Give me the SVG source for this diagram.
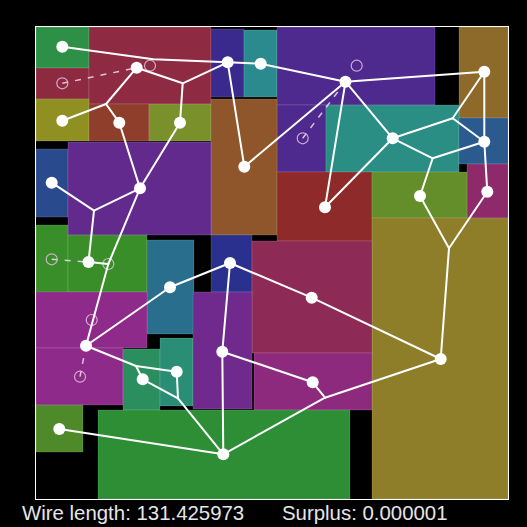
<svg xmlns="http://www.w3.org/2000/svg" width="527" height="527" viewBox="0 0 527 527">
<style>
.b{stroke:rgba(255,255,255,0.13);stroke-width:1}
.e{stroke:#ffffff;stroke-width:2;fill:none;stroke-linecap:round;stroke-linejoin:round}
.d{stroke:#f2dcec;stroke-width:1.5;stroke-dasharray:6 7;fill:none;opacity:0.85}
.g{fill:none;stroke:#dcb8d8;stroke-width:1.2;opacity:0.9}
.n{fill:#ffffff}
.t{font-family:"Liberation Sans",Arial,sans-serif;font-size:20.4px;fill:#e6e6e6}
</style>
<rect x="0" y="0" width="527" height="527" fill="#000"/>
<g id="blocks">
<rect class="b" x="36" y="27" width="53" height="41" fill="#2d9046"/>
<rect class="b" x="36" y="68" width="53" height="31" fill="#8e2a40"/>
<rect class="b" x="89" y="27" width="122" height="77" fill="#8e2b42"/>
<rect class="b" x="36" y="99" width="53" height="42" fill="#8f8f22"/>
<rect class="b" x="89" y="104" width="60" height="37" fill="#8e3e2a"/>
<rect class="b" x="149" y="104" width="62" height="37" fill="#7a902a"/>
<rect class="b" x="211" y="29" width="33" height="68" fill="#3b2a8e"/>
<rect class="b" x="244" y="30" width="33" height="67" fill="#2a8a8e"/>
<rect class="b" x="277" y="27" width="158" height="78" fill="#4e2a8e"/>
<rect class="b" x="277" y="105" width="49" height="67" fill="#4e2a8e"/>
<rect class="b" x="459" y="27" width="49" height="91" fill="#8e6a2a"/>
<rect class="b" x="326" y="105" width="133" height="67" fill="#2a8e84"/>
<rect class="b" x="459" y="118" width="49" height="46" fill="#2a5a8e"/>
<rect class="b" x="467" y="164" width="41" height="54" fill="#8e2a6a"/>
<rect class="b" x="211" y="99" width="66" height="136" fill="#8e562a"/>
<rect class="b" x="277" y="172" width="95" height="69" fill="#8e2a2a"/>
<rect class="b" x="372" y="172" width="95" height="46" fill="#648e2a"/>
<rect class="b" x="372" y="218" width="136" height="281" fill="#8e7e2a"/>
<rect class="b" x="36" y="149" width="32" height="68" fill="#2a4a8e"/>
<rect class="b" x="68" y="142" width="143" height="93" fill="#632a8e"/>
<rect class="b" x="36" y="225" width="32" height="68" fill="#3a8e2a"/>
<rect class="b" x="68" y="235" width="79" height="57" fill="#3a8e2a"/>
<rect class="b" x="147" y="240" width="47" height="94" fill="#2a6e8e"/>
<rect class="b" x="211" y="235" width="41" height="57" fill="#2a308e"/>
<rect class="b" x="252" y="241" width="120" height="112" fill="#8e2a56"/>
<rect class="b" x="36" y="292" width="111" height="56" fill="#8e2a8a"/>
<rect class="b" x="36" y="348" width="87" height="57" fill="#8e2a8a"/>
<rect class="b" x="123" y="349" width="37" height="61" fill="#2a8e5e"/>
<rect class="b" x="160" y="338" width="33" height="68" fill="#2a8e76"/>
<rect class="b" x="193" y="292" width="59" height="117" fill="#702a8e"/>
<rect class="b" x="254" y="353" width="118" height="57" fill="#8e2a7e"/>
<rect class="b" x="36" y="405" width="47" height="47" fill="#4e8a2a"/>
<rect class="b" x="98" y="410" width="252" height="89" fill="#2d8e36"/>
</g>
<rect x="35.5" y="26.5" width="473" height="473" fill="none" stroke="#ffffff" stroke-width="1"/>
<g id="ghosts">
<line class="d" x1="62.3" y1="83.3" x2="136.7" y2="67.7"/>
<line class="d" x1="302.7" y1="138.3" x2="345.5" y2="81.7"/>
<line class="d" x1="51.7" y1="259.3" x2="88.5" y2="262"/>
<line class="d" x1="80" y1="376.7" x2="86" y2="345.7"/>
<circle class="g" cx="150" cy="65.7" r="5.5"/>
<circle class="g" cx="62.3" cy="83.3" r="5.5"/>
<circle class="g" cx="356.7" cy="65.7" r="5.5"/>
<circle class="g" cx="302.7" cy="138.3" r="5.5"/>
<circle class="g" cx="51.7" cy="259.3" r="5.5"/>
<circle class="g" cx="108.3" cy="264" r="5.5"/>
<circle class="g" cx="91.7" cy="320" r="5.5"/>
<circle class="g" cx="80" cy="376.7" r="5.5"/>
</g>
<g id="connectors">
<polyline class="e" points="62.3,46.7 153.3,59.3 227.7,62.3"/>
<line class="e" x1="227.7" y1="62.3" x2="260.7" y2="63.7"/>
<line class="e" x1="260.7" y1="63.7" x2="345.5" y2="81.7"/>
<line class="e" x1="345.5" y1="81.7" x2="484.3" y2="71.7"/>
<line class="e" x1="136.7" y1="67.7" x2="182.7" y2="83.3"/>
<line class="e" x1="182.7" y1="83.3" x2="227.7" y2="62.3"/>
<line class="e" x1="182.7" y1="83.3" x2="180" y2="122.7"/>
<line class="e" x1="62.3" y1="120.7" x2="106" y2="104"/>
<line class="e" x1="106" y1="104" x2="136.7" y2="67.7"/>
<line class="e" x1="106" y1="104" x2="119.3" y2="122.7"/>
<line class="e" x1="119.3" y1="122.7" x2="140" y2="188.3"/>
<line class="e" x1="180" y1="122.7" x2="140" y2="188.3"/>
<line class="e" x1="227.7" y1="62.3" x2="244.3" y2="166.7"/>
<line class="e" x1="244.3" y1="166.7" x2="345.5" y2="81.7"/>
<line class="e" x1="345.5" y1="81.7" x2="325" y2="207.3"/>
<line class="e" x1="345.5" y1="81.7" x2="392.7" y2="138.3"/>
<line class="e" x1="392.7" y1="138.3" x2="325" y2="207.3"/>
<line class="e" x1="484.3" y1="71.7" x2="452.7" y2="118.3"/>
<line class="e" x1="452.7" y1="118.3" x2="392.7" y2="138.3"/>
<line class="e" x1="452.7" y1="118.3" x2="484.3" y2="141.7"/>
<line class="e" x1="484.3" y1="71.7" x2="484.3" y2="141.7"/>
<line class="e" x1="484.3" y1="141.7" x2="432.7" y2="158.3"/>
<line class="e" x1="432.7" y1="158.3" x2="392.7" y2="138.3"/>
<line class="e" x1="432.7" y1="158.3" x2="420" y2="196"/>
<line class="e" x1="484.3" y1="141.7" x2="487.3" y2="191.7"/>
<line class="e" x1="487.3" y1="191.7" x2="449" y2="248.3"/>
<line class="e" x1="420" y1="196" x2="449" y2="248.3"/>
<line class="e" x1="449" y1="248.3" x2="440.7" y2="359"/>
<line class="e" x1="51.7" y1="182.7" x2="94" y2="210.7"/>
<line class="e" x1="94" y1="210.7" x2="140" y2="188.3"/>
<line class="e" x1="94" y1="210.7" x2="88.5" y2="262"/>
<line class="e" x1="88.5" y1="262" x2="108.3" y2="264"/>
<line class="e" x1="140" y1="188.3" x2="108.3" y2="264"/>
<line class="e" x1="108.3" y1="264" x2="86" y2="345.7"/>
<line class="e" x1="86" y1="345.7" x2="170" y2="287.3"/>
<line class="e" x1="170" y1="287.3" x2="230" y2="263"/>
<line class="e" x1="230" y1="263" x2="311.7" y2="297.7"/>
<line class="e" x1="311.7" y1="297.7" x2="440.7" y2="359"/>
<line class="e" x1="230" y1="263" x2="222.3" y2="351.7"/>
<line class="e" x1="222.3" y1="351.7" x2="312.7" y2="382.3"/>
<line class="e" x1="312.7" y1="382.3" x2="325" y2="397.7"/>
<line class="e" x1="325" y1="397.7" x2="440.7" y2="359"/>
<line class="e" x1="325" y1="397.7" x2="223.3" y2="454.3"/>
<line class="e" x1="222.3" y1="351.7" x2="223.3" y2="454.3"/>
<line class="e" x1="86" y1="345.7" x2="136" y2="366"/>
<line class="e" x1="136" y1="366" x2="142.7" y2="379.3"/>
<line class="e" x1="136" y1="366" x2="176.7" y2="371.7"/>
<line class="e" x1="142.7" y1="379.3" x2="178" y2="398.3"/>
<line class="e" x1="176.7" y1="371.7" x2="178" y2="398.3"/>
<line class="e" x1="178" y1="398.3" x2="223.3" y2="454.3"/>
<line class="e" x1="223.3" y1="454.3" x2="59.3" y2="429"/>
</g>
<g id="n1"><circle class="n" cx="62.3" cy="46.7" r="6"/></g>
<g id="n2"><circle class="n" cx="136.7" cy="67.7" r="6"/></g>
<g id="n3"><circle class="n" cx="62.3" cy="120.7" r="6"/></g>
<g id="n4"><circle class="n" cx="119.3" cy="122.7" r="6"/></g>
<g id="n5"><circle class="n" cx="180" cy="122.7" r="6"/></g>
<g id="n6"><circle class="n" cx="227.7" cy="62.3" r="6"/></g>
<g id="n7"><circle class="n" cx="260.7" cy="63.7" r="6"/></g>
<g id="n8"><circle class="n" cx="345.5" cy="81.7" r="6"/></g>
<g id="n9"><circle class="n" cx="484.3" cy="71.7" r="6"/></g>
<g id="n10"><circle class="n" cx="392.7" cy="138.3" r="6"/></g>
<g id="n11"><circle class="n" cx="484.3" cy="141.7" r="6"/></g>
<g id="n12"><circle class="n" cx="51.7" cy="182.7" r="6"/></g>
<g id="n13"><circle class="n" cx="140" cy="188.3" r="6"/></g>
<g id="n14"><circle class="n" cx="88.5" cy="262" r="6"/></g>
<g id="n15"><circle class="n" cx="244.3" cy="166.7" r="6"/></g>
<g id="n16"><circle class="n" cx="230" cy="263" r="6"/></g>
<g id="n17"><circle class="n" cx="325" cy="207.3" r="6"/></g>
<g id="n18"><circle class="n" cx="420" cy="196" r="6"/></g>
<g id="n19"><circle class="n" cx="487.3" cy="191.7" r="6"/></g>
<g id="n20"><circle class="n" cx="170" cy="287.3" r="6"/></g>
<g id="n21"><circle class="n" cx="86" cy="345.7" r="6"/></g>
<g id="n22"><circle class="n" cx="142.7" cy="379.3" r="6"/></g>
<g id="n23"><circle class="n" cx="176.7" cy="371.7" r="6"/></g>
<g id="n24"><circle class="n" cx="222.3" cy="351.7" r="6"/></g>
<g id="n25"><circle class="n" cx="311.7" cy="297.7" r="6"/></g>
<g id="n26"><circle class="n" cx="440.7" cy="359" r="6"/></g>
<g id="n27"><circle class="n" cx="312.7" cy="382.3" r="6"/></g>
<g id="n28"><circle class="n" cx="59.3" cy="429" r="6"/></g>
<g id="n29"><circle class="n" cx="223.3" cy="454.3" r="6"/></g>
<text class="t" x="22" y="520">Wire length: 131.425973</text>
<text class="t" x="282" y="520">Surplus: 0.000001</text>
</svg>
